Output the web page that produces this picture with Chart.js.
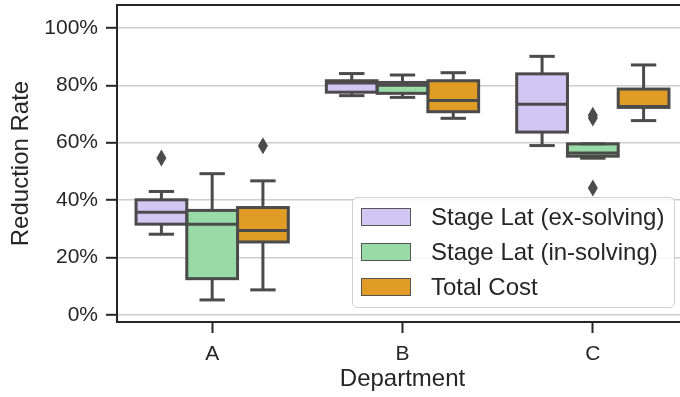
<!DOCTYPE html>
<html>
<head>
<meta charset="utf-8">
<script src="https://cdn.jsdelivr.net/npm/chart.js@4/dist/chart.umd.min.js"></script>
<style>
  html, body { margin: 0; padding: 0; background: #fff; overflow: hidden; }
  #wrap { position: relative; width: 680px; height: 397px; overflow: hidden; }
  #plot { position: absolute; left: 0; top: 0; }
  #legend {
    position: absolute; left: 352px; top: 197px; width: 321px; height: 109px;
    border: 1.3px solid #cfcfcf; border-radius: 5px; background: rgba(255,255,255,0.8);
    font-family: 'Liberation Sans', Arial, sans-serif; font-size: 24px; color: #262626;
  }
  .row { position: absolute; left: 0; height: 30px; }
  .patch { position: absolute; left: 8px; width: 48px; height: 16px; border: 1px solid #555; }
  .label { position: absolute; left: 78px; white-space: nowrap; line-height: 30px; }
</style>
</head>
<body>
<div id="wrap">
  <canvas id="plot" width="700" height="397"></canvas>
  <div id="legend"></div>
</div>
<script>
// Departments on the x axis
const categories = ['A', 'B', 'C'];

// Series names and fill colours
const seriesNames = ['Stage Lat (ex-solving)', 'Stage Lat (in-solving)', 'Total Cost'];
const seriesColors = ['#d2c6f5', '#98dba7', '#e09c24'];

// Five-number summaries per department: [lower whisker, Q1, median, Q3, upper whisker] (%)
const exSolvingStats = [[28.1, 31.6, 35.8, 40.1, 43.0], [76.4, 77.6, 80.8, 81.6, 84.1], [59.0, 63.7, 73.4, 84.0, 90.1]];
const inSolvingStats = [[5.2, 12.6, 31.6, 36.4, 49.2], [75.8, 77.2, 80.0, 81.0, 83.6], [54.6, 55.3, 56.4, 59.6, 59.6]];
const totalCostStats = [[8.7, 25.4, 29.4, 37.4, 46.7], [68.5, 70.8, 74.7, 81.6, 84.4], [67.7, 72.3, 72.6, 78.7, 87.1]];

// Outliers per department (%)
const exSolvingFliers = [[54.7], [], []];
const inSolvingFliers = [[], [], [68.6, 69.6, 44.2]];
const totalCostFliers = [[58.9], [], []];

// Y axis tick values (%)
const yTicks = [0, 20, 40, 60, 80, 100];

const allStats = [exSolvingStats, inSolvingStats, totalCostStats];
const allFliers = [exSolvingFliers, inSolvingFliers, totalCostFliers];

const INK = '#262626';
const EDGE = '#4b4b4b';
const FONT = "'Liberation Sans', Arial, sans-serif";

// Whiskers, caps, medians, box outlines and outliers drawn on top of the box fills
const boxDetails = {
  id: 'boxDetails',
  afterDatasetsDraw(chart) {
    const ctx = chart.ctx;
    const ys = chart.scales.y;
    const py = v => ys.getPixelForValue(v);
    const seg = (x1, y1, x2, y2) => { ctx.beginPath(); ctx.moveTo(x1, y1); ctx.lineTo(x2, y2); ctx.stroke(); };
    ctx.save();
    ctx.strokeStyle = EDGE;
    ctx.fillStyle = EDGE;
    ctx.lineWidth = 3;
    ctx.lineJoin = 'miter';
    ctx.lineCap = 'butt';
    chart.data.datasets.forEach((ds, di) => {
      const meta = chart.getDatasetMeta(di);
      meta.data.forEach((bar, i) => {
        const s = ds.stats[i];
        const w = bar.width;
        const cx = bar.x;
        const left = cx - w / 2;
        // whiskers
        seg(cx, py(s[3]), cx, py(s[4]));
        seg(cx, py(s[1]), cx, py(s[0]));
        // caps
        seg(cx - w / 4, py(s[4]), cx + w / 4, py(s[4]));
        seg(cx - w / 4, py(s[0]), cx + w / 4, py(s[0]));
        // box outline
        ctx.strokeRect(left, py(s[3]), w, py(s[1]) - py(s[3]));
        // median
        seg(left, py(s[2]), left + w, py(s[2]));
        // outliers as thin diamonds
        ds.fliers[i].forEach(v => {
          const y = py(v);
          ctx.beginPath();
          ctx.moveTo(cx, y - 8.5);
          ctx.lineTo(cx + 5, y);
          ctx.lineTo(cx, y + 8.5);
          ctx.lineTo(cx - 5, y);
          ctx.closePath();
          ctx.fill();
        });
      });
    });
    // top and right frame lines
    const a = chart.chartArea;
    ctx.strokeStyle = INK;
    ctx.lineWidth = 2;
    seg(a.left - 1, a.top, a.right + 1, a.top);
    seg(a.right, a.top, a.right, a.bottom);
    ctx.restore();
  }
};

const datasets = seriesNames.map((name, k) => ({
  label: name,
  data: allStats[k].map(s => [s[1], s[3]]),
  stats: allStats[k],
  fliers: allFliers[k],
  backgroundColor: seriesColors[k],
  borderWidth: 0,
  categoryPercentage: 0.8,
  barPercentage: 1.0
}));

new Chart(document.getElementById('plot'), {
  type: 'bar',
  data: { labels: categories, datasets },
  plugins: [boxDetails],
  options: {
    responsive: false,
    animation: false,
    devicePixelRatio: 1,
    layout: { padding: { top: 5, right: 12, left: 0, bottom: 0 } },
    plugins: { legend: { display: false }, tooltip: { enabled: false } },
    scales: {
      x: {
        offset: true,
        grid: { display: true, drawOnChartArea: false, offset: false, tickLength: 11, tickColor: INK, tickWidth: 2 },
        border: { display: true, color: INK, width: 2 },
        ticks: { color: INK, font: { family: FONT, size: 21 }, padding: 9 },
        title: { display: true, text: 'Department', color: INK, font: { family: FONT, size: 24 }, padding: { top: 0, bottom: 3 } },
        afterFit(scale) { scale.height = 75; scale.paddingLeft = 0; scale.paddingRight = 0; }
      },
      y: {
        min: -2.5,
        max: 108,
        afterBuildTicks(scale) { scale.ticks = yTicks.map(v => ({ value: v })); },
        grid: { color: '#cccccc', lineWidth: 1.6, tickLength: 11, tickColor: INK, tickWidth: 2 },
        border: { display: true, color: INK, width: 2 },
        ticks: { color: INK, font: { family: FONT, size: 21 }, padding: 8, callback: v => v + '%' },
        title: { display: true, text: 'Reduction Rate', color: INK, font: { family: FONT, size: 24 }, padding: { top: 7, bottom: 0 } },
        afterFit(scale) { scale.width = 117; scale.paddingTop = 0; scale.paddingBottom = 0; }
      }
    }
  }
});

// Legend built from the series names and colours
const legend = document.getElementById('legend');
seriesNames.forEach((name, k) => {
  const row = document.createElement('div');
  row.className = 'row';
  row.style.top = (4 + k * 35) + 'px';
  row.style.width = '100%';
  const patch = document.createElement('div');
  patch.className = 'patch';
  patch.style.background = seriesColors[k];
  patch.style.top = '6px';
  const label = document.createElement('div');
  label.className = 'label';
  label.textContent = name;
  label.style.top = '0px';
  row.appendChild(patch);
  row.appendChild(label);
  legend.appendChild(row);
});
</script>
</body>
</html>
